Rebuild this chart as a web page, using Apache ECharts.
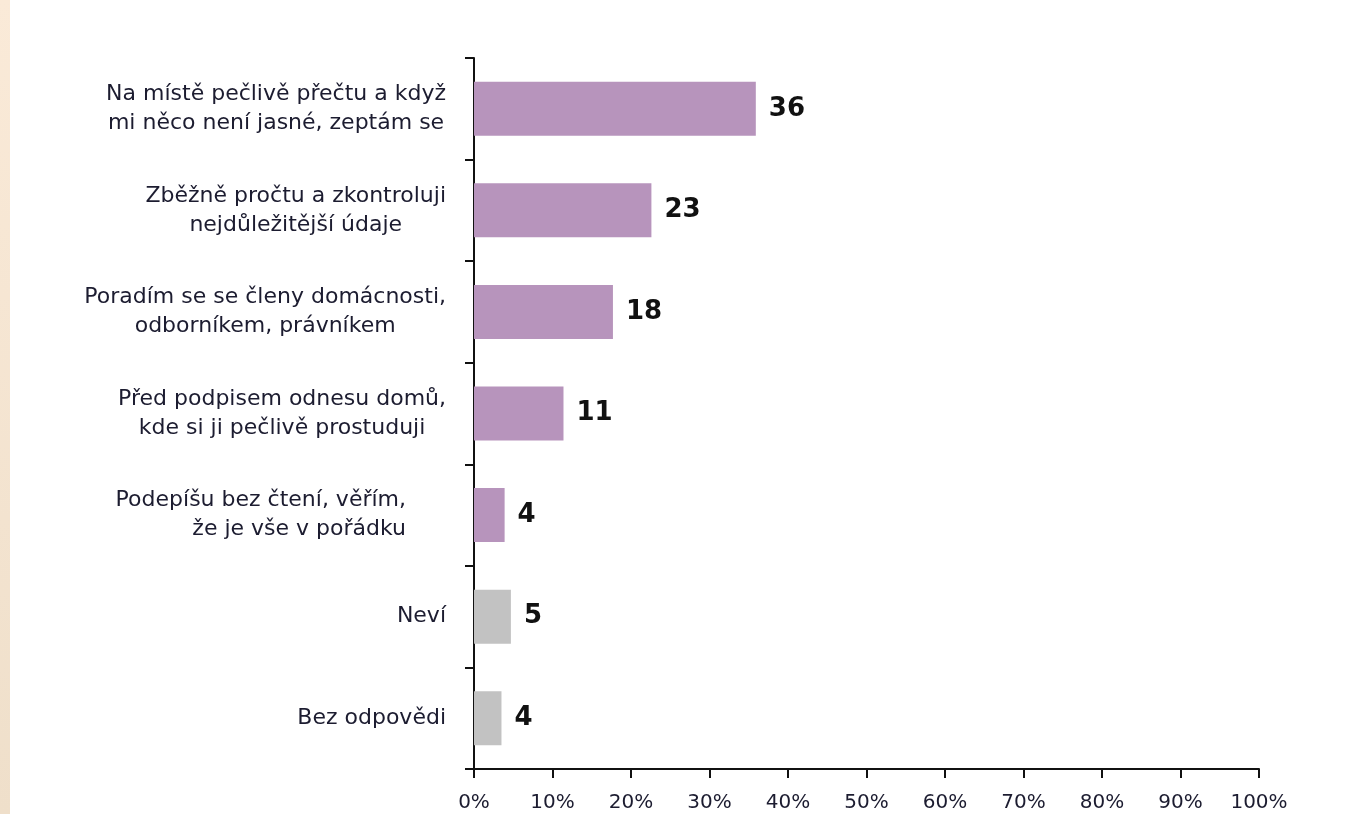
<!DOCTYPE html>
<html>
<head>
<meta charset="utf-8">
<script src="https://cdn.jsdelivr.net/npm/echarts@6/dist/echarts.min.js"></script>
<style>
html, body { margin: 0; padding: 0; background: #ffffff; }
#chart { width: 1363px; height: 814px; }
</style>
</head>
<body>
<div id="chart"></div>
<script>
// ---- data ----
const categories = [
  'Na místě pečlivě přečtu a když\nmi něco není jasné, zeptám se',
  'Zběžně pročtu a zkontroluji\nnejdůležitější údaje',
  'Poradím se se členy domácnosti,\nodborníkem, právníkem',
  'Před podpisem odnesu domů,\nkde si ji pečlivě prostuduji',
  'Podepíšu bez čtení, věřím,\nže je vše v pořádku',
  'Neví',
  'Bez odpovědi'
];
const values = [35.9, 22.6, 17.7, 11.4, 3.9, 4.7, 3.5];
const valueLabels = ['36', '23', '18', '11', '4', '5', '4'];
const barGroups = ['answer', 'answer', 'answer', 'answer', 'answer', 'other', 'other'];
const xTickLabels = ['0%', '10%', '20%', '30%', '40%', '50%', '60%', '70%', '80%', '90%', '100%'];

// ---- styles ----
const groupColors = { answer: '#B794BC', other: '#C2C2C2' };
const textColor = '#1c1c30';

const chart = echarts.init(document.getElementById('chart'), null, { renderer: 'canvas' });

const option = {
  animation: false,
  backgroundColor: '#ffffff',
  graphic: [{
    type: 'rect',
    left: 0, top: 0,
    shape: { width: 10, height: 814 },
    style: {
      fill: new echarts.graphic.LinearGradient(0, 0, 0, 1, [
        { offset: 0, color: '#FAEAD8' },
        { offset: 1, color: '#EFDFCA' }
      ])
    },
    silent: true
  }],
  grid: { left: 474, right: 104, top: 58, bottom: 45, containLabel: false },
  xAxis: {
    type: 'value',
    min: 0, max: 100, interval: 10,
    splitLine: { show: false },
    axisLine: { show: true, lineStyle: { color: '#111', width: 2 } },
    axisTick: { show: true, length: 9, lineStyle: { color: '#111', width: 2 } },
    axisLabel: {
      margin: 24,
      fontFamily: 'DejaVu Sans',
      fontSize: 20,
      color: textColor,
      formatter: function (v) { return xTickLabels[Math.round(v / 10)]; }
    }
  },
  yAxis: {
    type: 'category',
    inverse: true,
    data: categories,
    axisLine: { show: true, lineStyle: { color: '#111', width: 2 } },
    axisTick: { show: true, length: 9, alignWithLabel: false, lineStyle: { color: '#111', width: 2 } },
    axisLabel: {
      margin: 28,
      fontFamily: 'DejaVu Sans',
      fontSize: 22,
      lineHeight: 29,
      color: textColor,
      align: 'right',
      formatter: function (v, i) {
        const style = (i === 4) ? 'r' : 'c';
        return String(v).split('\n').map(function (l) { return '{' + style + '|' + l + '}'; }).join('\n');
      },
      rich: {
        c: { align: 'center', fontFamily: 'DejaVu Sans', fontSize: 22, lineHeight: 29, color: textColor },
        r: { align: 'right', fontFamily: 'DejaVu Sans', fontSize: 22, lineHeight: 29, color: textColor, padding: [0, 40, 0, 0] }
      }
    }
  },
  series: [{
    type: 'bar',
    barWidth: 54,
    data: values.map(function (v, i) {
      return { value: v, itemStyle: { color: groupColors[barGroups[i]] } };
    }),
    label: {
      show: true,
      position: 'right',
      distance: 13,
      fontFamily: 'DejaVu Sans',
      fontWeight: 'bold',
      fontSize: 26,
      color: '#111',
      formatter: function (p) { return valueLabels[p.dataIndex]; }
    }
  }]
};

chart.setOption(option);
</script>
</body>
</html>
